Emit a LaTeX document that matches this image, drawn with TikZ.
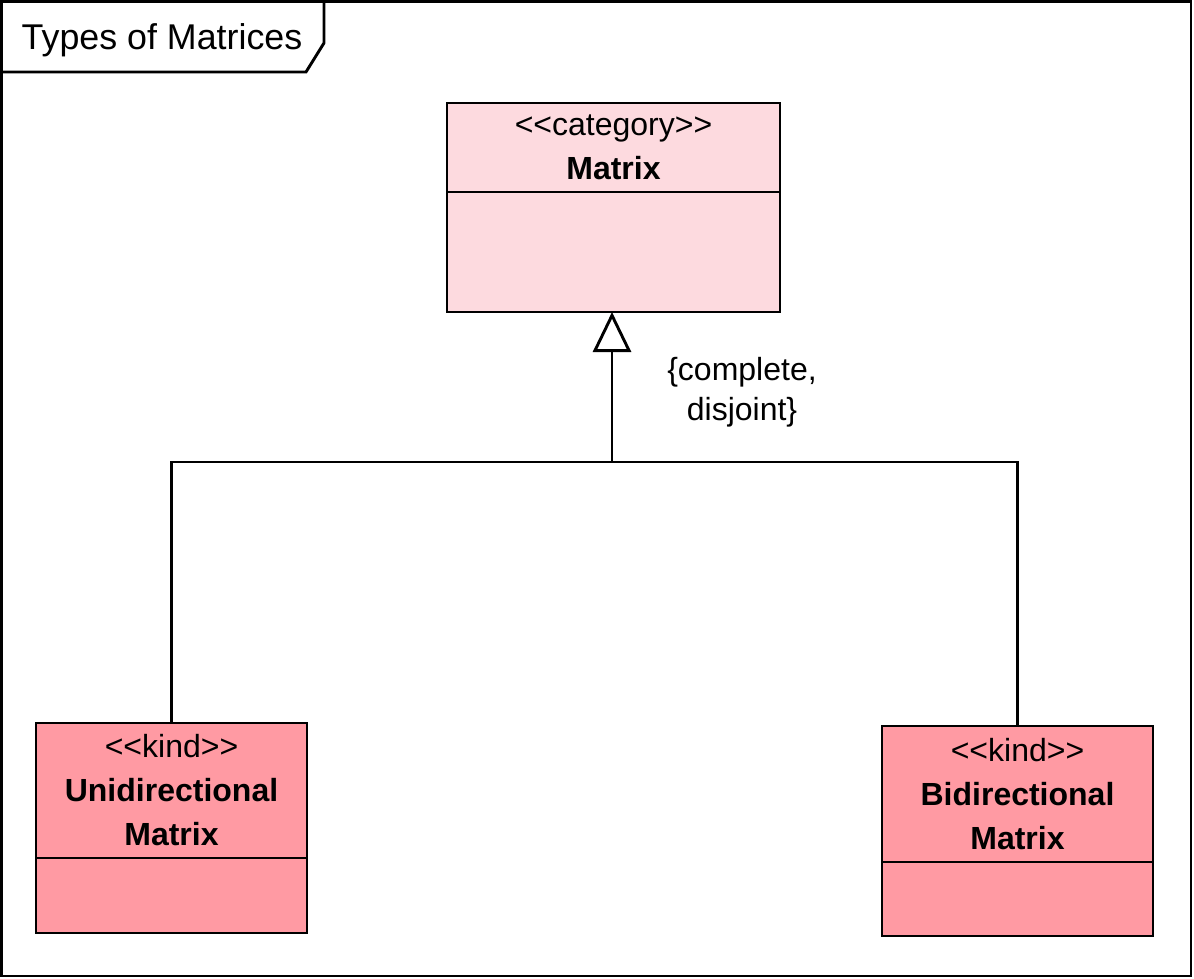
\documentclass[tikz,border=0pt]{standalone}
\usepackage{fontspec}
\newfontfamily\umlfont{Liberation Sans}
\usetikzlibrary{positioning,arrows.meta}
\definecolor{catpink}{RGB}{253,218,223}
\definecolor{kindpink}{RGB}{255,154,163}

\begin{document}
\begin{tikzpicture}[x=1pt,y=-1pt,line width=2.9pt,
    every node/.style={font=\umlfont\fontsize{32}{44}\selectfont},
    head/.style={draw,align=center,inner sep=0pt,outer sep=0pt},
    body/.style={draw,inner sep=0pt,outer sep=0pt},
    gen/.style={-{Triangle[open,length=40pt,width=38pt]}}]
    \useasboundingbox (0,0) rectangle (1194,978);
    \draw (1.5,1.5) rectangle (1191,976);
    \draw (1.5,72) -- (306,72) -- (324,43) -- (324,1.5);
    \node[font=\umlfont\fontsize{35.8}{40}\selectfont] (title) at (162,40) {Types of Matrices};
    \node[head,fill=catpink,minimum width=333,minimum height=89] (matrixHead) at (613.5,147.5)
        {<<category>>\\\textbf{Matrix}};
    \node[body,fill=catpink,minimum width=333,minimum height=120,below=0pt of matrixHead] (matrix) {};
    \node[head,fill=kindpink,minimum width=271,minimum height=135] (uniHead) at (171.5,790.5)
        {<<kind>>\\\textbf{Unidirectional}\\\textbf{Matrix}};
    \node[body,fill=kindpink,minimum width=271,minimum height=75,below=0pt of uniHead] (uni) {};
    \node[head,fill=kindpink,minimum width=271,minimum height=136] (biHead) at (1017.5,794)
        {<<kind>>\\\textbf{Bidirectional}\\\textbf{Matrix}};
    \node[body,fill=kindpink,minimum width=271,minimum height=74,below=0pt of biHead] (bi) {};
    \coordinate (fork) at (612,462);
    \draw (uniHead.north) |- (fork) -| (biHead.north);
    \draw[gen] (fork) -- (fork |- matrix.south);
    \node[align=center,font=\umlfont\fontsize{32}{40}\selectfont] (gset) at (742,392)
        {\{complete,\\disjoint\}};
\end{tikzpicture}
\end{document}
